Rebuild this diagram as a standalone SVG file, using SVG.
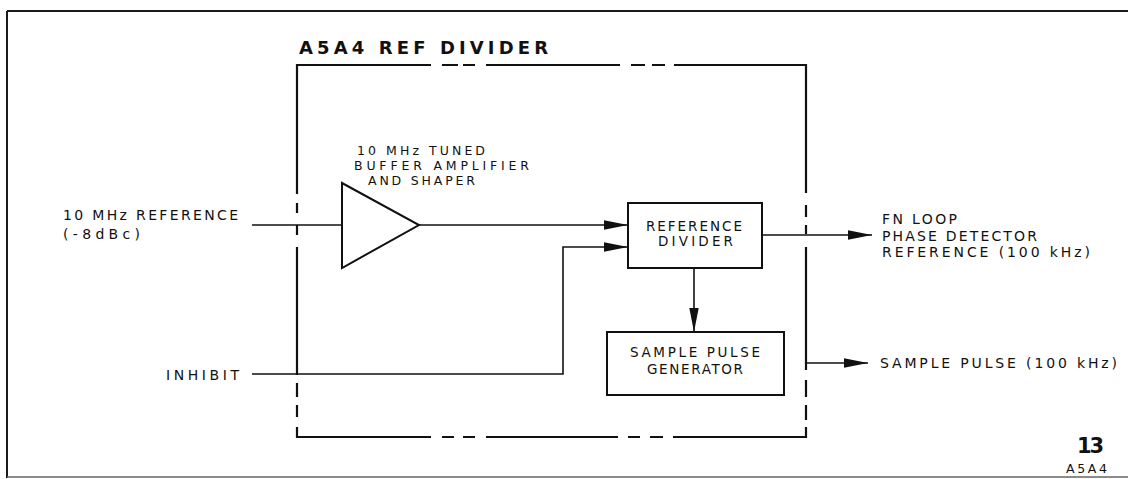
<svg xmlns="http://www.w3.org/2000/svg" width="1128" height="479" viewBox="0 0 1128 479">
  <style>
    .frame{stroke:#1a1a1a;stroke-width:2;fill:none}
    .edge{stroke:#111;stroke-width:2.2;fill:none;stroke-linecap:butt}
    .box{stroke:#111;stroke-width:2;fill:#fff}
    .wire{stroke:#111;stroke-width:1.6;fill:none}
    .lbl{font-family:"DejaVu Sans","Liberation Sans",Arial,sans-serif;font-size:14px;fill:#111}
    .alb{font-family:"DejaVu Sans","Liberation Sans",Arial,sans-serif;font-size:12.5px;fill:#111}
    .blbl{font-family:"DejaVu Sans","Liberation Sans",Arial,sans-serif;font-size:13.5px;fill:#111}
    .title{font-family:"DejaVu Sans","Liberation Sans",Arial,sans-serif;font-size:18px;font-weight:bold;fill:#111}
  </style>
  <defs>
    <marker id="ah" markerUnits="userSpaceOnUse" markerWidth="24" markerHeight="11" viewBox="0 0 24 11" refX="24" refY="5.5" orient="auto">
      <path d="M0,0.8 L24,5.5 L0,10.2 Z" fill="#111"/>
    </marker>
  </defs>
  <rect width="1128" height="479" fill="#fff"/>

  <g id="frame">
    <path class="frame" d="M7,11 H1128 M7,11 V478"/>
    <path d="M7,477 H1128" stroke="#666" stroke-width="1.5" fill="none"/>
  </g>

  <g id="a5a4-ref-divider">
    <text class="title" x="299" y="54" textLength="249" lengthAdjust="spacing">A5A4 REF DIVIDER</text>
    <path class="edge" d="M297,65 H431 M442,65 H458 M463,65 H475 M486,65 H620 M631,65 H645 M652,65 H665 M674,65 H806
      M297,437 H431 M442,437 H454 M463,437 H475 M486,437 H618 M628,437 H640 M650,437 H663 M673,437 H806
      M297,64 V194 M297,203 V213 M297,225 V235 M297,247 V375 M297,383 V397 M297,405 V417 M297,427 V438
      M806,64 V193 M806,205 V217 M806,225 V234 M806,247 V370 M806,380 V397 M806,405 V420 M806,427 V438"/>
  </g>

  <g id="buffer-amplifier">
    <polygon class="box" points="342,183 419,225 342,268" stroke-width="1.8"/>
    <text class="alb" x="357" y="155" textLength="128" lengthAdjust="spacing">10 MHz TUNED</text>
    <text class="alb" x="354" y="170" textLength="175" lengthAdjust="spacing">BUFFER AMPLIFIER</text>
    <text class="alb" x="368" y="185" textLength="107" lengthAdjust="spacing">AND SHAPER</text>
  </g>

  <g id="reference-divider">
    <rect class="box" x="628" y="203" width="134" height="65"/>
    <text class="blbl" x="646" y="231" textLength="96" lengthAdjust="spacing">REFERENCE</text>
    <text class="blbl" x="658" y="246" textLength="75" lengthAdjust="spacing">DIVIDER</text>
  </g>

  <g id="sample-pulse-generator">
    <rect class="box" x="607" y="332" width="177" height="63"/>
    <text class="blbl" x="630" y="357" textLength="130" lengthAdjust="spacing">SAMPLE PULSE</text>
    <text class="blbl" x="647" y="374" textLength="96" lengthAdjust="spacing">GENERATOR</text>
  </g>

  <g id="input-labels">
    <text class="lbl" x="63" y="220" textLength="175" lengthAdjust="spacing">10 MHz REFERENCE</text>
    <text class="lbl" x="63" y="239" textLength="77" lengthAdjust="spacing">(-8dBc)</text>
    <text class="lbl" x="166" y="380" textLength="73" lengthAdjust="spacing">INHIBIT</text>
  </g>

  <g id="output-labels">
    <text class="lbl" x="882" y="224" textLength="75" lengthAdjust="spacing">FN LOOP</text>
    <text class="lbl" x="882" y="241" textLength="155" lengthAdjust="spacing">PHASE DETECTOR</text>
    <text class="lbl" x="882" y="257" textLength="208" lengthAdjust="spacing">REFERENCE (100 kHz)</text>
    <text class="lbl" x="880" y="368" textLength="237" lengthAdjust="spacing">SAMPLE PULSE (100 kHz)</text>
  </g>

  <g id="page-id">
    <text class="lbl" x="1077" y="453" style="font-size:21px;font-weight:bold" textLength="27" lengthAdjust="spacing">13</text>
    <text class="lbl" x="1066" y="473" style="font-size:12.5px" textLength="41" lengthAdjust="spacing">A5A4</text>
  </g>

  <g id="connectors">
    <path class="wire" d="M252,225 H342"/>
    <path class="wire" d="M419,225 H628" marker-end="url(#ah)"/>
    <path class="wire" d="M252,374 H563 V247 H628" marker-end="url(#ah)"/>
    <path class="wire" d="M694,268 V332" marker-end="url(#ah)"/>
    <path class="wire" d="M762,235 H872" marker-end="url(#ah)"/>
    <path class="wire" d="M806,363 H868" marker-end="url(#ah)"/>
  </g>
</svg>
